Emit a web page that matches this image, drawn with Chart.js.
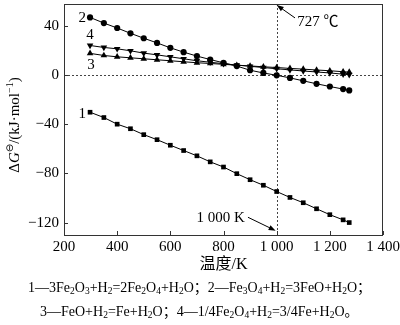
<!DOCTYPE html>
<html>
<head>
<meta charset="utf-8">
<script src="https://cdn.jsdelivr.net/npm/chart.js@4.4.1/dist/chart.umd.min.js"></script>
<style>
  html,body{margin:0;padding:0;background:#fff;}
  #wrap{position:relative;width:400px;height:325px;overflow:hidden;}
  canvas{position:absolute;left:0;top:0;}
  .cap{position:absolute;white-space:nowrap;font-family:"Liberation Serif","Noto Sans CJK SC",serif;font-size:14px;color:#000;line-height:16px;}
  .cap sub{font-size:9.5px;vertical-align:-2px;line-height:0;}
</style>
</head>
<body>
<div id="wrap">
<canvas id="c" width="400" height="325"></canvas>
<div class="cap" style="left:28px;top:280px;">1—3Fe<sub>2</sub>O<sub>3</sub>+H<sub>2</sub>=2Fe<sub>2</sub>O<sub>4</sub>+H<sub>2</sub>O；2—Fe<sub>3</sub>O<sub>4</sub>+H<sub>2</sub>=3FeO+H<sub>2</sub>O；</div>
<div class="cap" style="left:40px;top:304px;">3—FeO+H<sub>2</sub>=Fe+H<sub>2</sub>O；4—1/4Fe<sub>2</sub>O<sub>4</sub>+H<sub>2</sub>=3/4Fe+H<sub>2</sub>O。</div>
</div>
<script>
// ---- data ----
const temps = [298,350,400,450,500,550,600,650,700,750,800,850,900,950,1000,1050,1100,1150,1200,1250,1273];
const dG1 = [-30.3,-34.6,-40.0,-43.7,-48.5,-52.6,-57.1,-61.4,-65.7,-70.6,-74.8,-80.2,-85.1,-89.6,-94.7,-99.5,-103.8,-108.7,-113.5,-117.7,-119.9];
const dG2 = [46.7,42.1,38.1,33.8,29.8,26.0,22.0,18.5,15.3,12.5,9.8,7.2,3.8,1.6,-0.3,-2.4,-4.8,-7.2,-9.4,-11.5,-12.6];
const dG3 = [17.5,15.8,14.7,13.9,13.1,12.3,11.5,10.7,9.9,9.3,8.6,7.9,7.3,6.6,6.0,5.3,4.7,4.0,3.4,2.6,2.3];
const dG4 = [23.9,22.3,21.2,19.6,17.7,16.3,14.7,13.1,11.5,10.3,9.1,8.0,7.0,6.0,5.0,4.1,3.2,2.4,1.6,0.6,0.2];
const seriesLabels = ['1','2','3','4'];
const xTicks = [200,400,600,800,1000,1200,1400];
const yTicks = [-120,-80,-40,0,40];
const markT = 1000;
const xTitle = '温度/K';
const note727 = '727 ℃';
const note1000 = '1 000 K';

const SERIF = '"Liberation Serif","Noto Sans CJK SC",serif';
const pts = arr => temps.map((t,i)=>({x:t,y:arr[i]}));
const fmtX = v => v >= 1000 ? String(v).replace(/(\d)(\d{3})$/,'$1 $2') : String(v);
const fmtY = v => v < 0 ? '\u2212' + Math.abs(v) : String(v);

function arrow(ctx, x1, y1, x2, y2){
  const ang = Math.atan2(y2-y1, x2-x1);
  const L = 7, W = 2.6;
  ctx.beginPath(); ctx.moveTo(x1,y1);
  ctx.lineTo(x2 - Math.cos(ang)*L*0.8, y2 - Math.sin(ang)*L*0.8); ctx.stroke();
  ctx.beginPath();
  ctx.moveTo(x2,y2);
  ctx.lineTo(x2 - Math.cos(ang)*L - Math.sin(ang)*W, y2 - Math.sin(ang)*L + Math.cos(ang)*W);
  ctx.lineTo(x2 - Math.cos(ang)*L + Math.sin(ang)*W, y2 - Math.sin(ang)*L - Math.cos(ang)*W);
  ctx.closePath(); ctx.fill();
}

const deco = {
  id:'deco',
  beforeDatasetsDraw(chart){
    const {ctx, chartArea:a, scales:{x,y}} = chart;
    ctx.save();
    ctx.strokeStyle = '#444'; ctx.lineWidth = 1; ctx.setLineDash([2,2]);
    const y0 = Math.round(y.getPixelForValue(0)) + 0.5;
    ctx.beginPath(); ctx.moveTo(a.left, y0); ctx.lineTo(a.right, y0); ctx.stroke();
    const x0 = Math.round(x.getPixelForValue(markT)) + 0.5;
    ctx.beginPath(); ctx.moveTo(x0, a.top); ctx.lineTo(x0, a.bottom); ctx.stroke();
    ctx.restore();
  },
  afterDraw(chart){
    const {ctx, chartArea:a, scales:{x,y}} = chart;
    ctx.save();
    // frame
    ctx.strokeStyle = '#333'; ctx.lineWidth = 1;
    ctx.strokeRect(Math.round(a.left)+0.5, Math.round(a.top)+0.5, Math.round(a.right-a.left)-1, Math.round(a.bottom-a.top));
    // inward ticks
    ctx.beginPath();
    xTicks.forEach(v=>{ const px = Math.round(x.getPixelForValue(v))+0.5; ctx.moveTo(px, a.bottom); ctx.lineTo(px, a.bottom-4); });
    yTicks.forEach(v=>{ const py = Math.round(y.getPixelForValue(v))+0.5; ctx.moveTo(a.left, py); ctx.lineTo(a.left+4, py); });
    ctx.stroke();
    // series labels
    ctx.fillStyle = '#000'; ctx.font = '15px ' + SERIF; ctx.textBaseline = 'middle';
    const px0 = x.getPixelForValue(temps[0]);
    ctx.textAlign = 'right';
    ctx.fillText(seriesLabels[0], px0-4, y.getPixelForValue(dG1[0])+2);
    ctx.fillText(seriesLabels[1], px0-4, y.getPixelForValue(dG2[0])+1);
    ctx.textAlign = 'center';
    ctx.fillText(seriesLabels[3], px0, y.getPixelForValue(dG4[0])-10);
    ctx.fillText(seriesLabels[2], px0+1, y.getPixelForValue(dG3[0])+12);
    // annotations
    ctx.strokeStyle = '#000'; ctx.fillStyle = '#000'; ctx.lineWidth = 1;
    const xm = x.getPixelForValue(markT);
    arrow(ctx, x.getPixelForValue(1069), y.getPixelForValue(46.3), xm, a.top+1);
    ctx.textAlign = 'left';
    ctx.fillText(note727, x.getPixelForValue(1077), y.getPixelForValue(43.1));
    arrow(ctx, x.getPixelForValue(892), y.getPixelForValue(-115.6), xm-1, y.getPixelForValue(-126.5));
    ctx.textAlign = 'right';
    ctx.fillText(note1000, x.getPixelForValue(880), y.getPixelForValue(-116));
    // x title
    ctx.textAlign = 'center'; ctx.font = '16px ' + SERIF;
    ctx.fillText(xTitle, (a.left + a.right)/2, 265);
    // y title: ΔG⊖/(kJ·mol−1)
    ctx.translate(15, 125); ctx.rotate(-Math.PI/2);
    const parts = [
      {t:'\u0394', f:'15px '+SERIF, dy:0},
      {t:'G', f:'italic 15px '+SERIF, dy:0},
      {t:'\u2296', f:'10px "DejaVu Sans",sans-serif', dy:-5},
      {t:'/(kJ\u00b7mol', f:'15px '+SERIF, dy:0},
      {t:'\u22121', f:'10px '+SERIF, dy:-5},
      {t:')', f:'15px '+SERIF, dy:0}
    ];
    let w = 0;
    parts.forEach(p=>{ ctx.font = p.f; p.w = ctx.measureText(p.t).width; w += p.w; });
    let cx = -w/2;
    ctx.textAlign = 'left';
    parts.forEach(p=>{ ctx.font = p.f; ctx.fillText(p.t, cx, p.dy); cx += p.w; });
    ctx.restore();
  }
};

const common = {borderColor:'#000', backgroundColor:'#000', borderWidth:1, pointBorderWidth:0, showLine:true, tension:0};
new Chart(document.getElementById('c'), {
  type:'scatter',
  data:{ datasets:[
    Object.assign({label:seriesLabels[0], data:pts(dG1), pointStyle:'rect', pointRadius:3.3}, common),
    Object.assign({label:seriesLabels[1], data:pts(dG2), pointStyle:'circle', pointRadius:3.1}, common),
    Object.assign({label:seriesLabels[2], data:pts(dG3), pointStyle:'triangle', pointRadius:3.8}, common),
    Object.assign({label:seriesLabels[3], data:pts(dG4), pointStyle:'triangle', pointRotation:180, pointRadius:3.8}, common)
  ]},
  options:{
    responsive:false, animation:false, devicePixelRatio:1,
    layout:{padding:{left:0, right:17, top:1, bottom:0}},
    plugins:{legend:{display:false}, tooltip:{enabled:false}},
    scales:{
      x:{type:'linear', min:200, max:1400,
        afterBuildTicks: s => { s.ticks = xTicks.map(v=>({value:v})); },
        afterFit: s => { s.height = 90; s.paddingLeft = 0; s.paddingRight = 0; },
        grid:{display:true, drawOnChartArea:false, drawTicks:false},
        border:{display:false},
        ticks:{padding:3, color:'#000', font:{family:SERIF, size:15}, maxRotation:0, autoSkip:false, callback: v => fmtX(v)}
      },
      y:{type:'linear', min:-130, max:57.6,
        afterBuildTicks: s => { s.ticks = yTicks.map(v=>({value:v})); },
        afterFit: s => { s.width = 64; s.paddingTop = 0; s.paddingBottom = 0; },
        grid:{display:true, drawOnChartArea:false, drawTicks:false},
        border:{display:false},
        ticks:{padding:5, color:'#000', font:{family:SERIF, size:15}, autoSkip:false, callback: v => fmtY(v)}
      }
    }
  },
  plugins:[deco]
});
</script>
</body>
</html>
